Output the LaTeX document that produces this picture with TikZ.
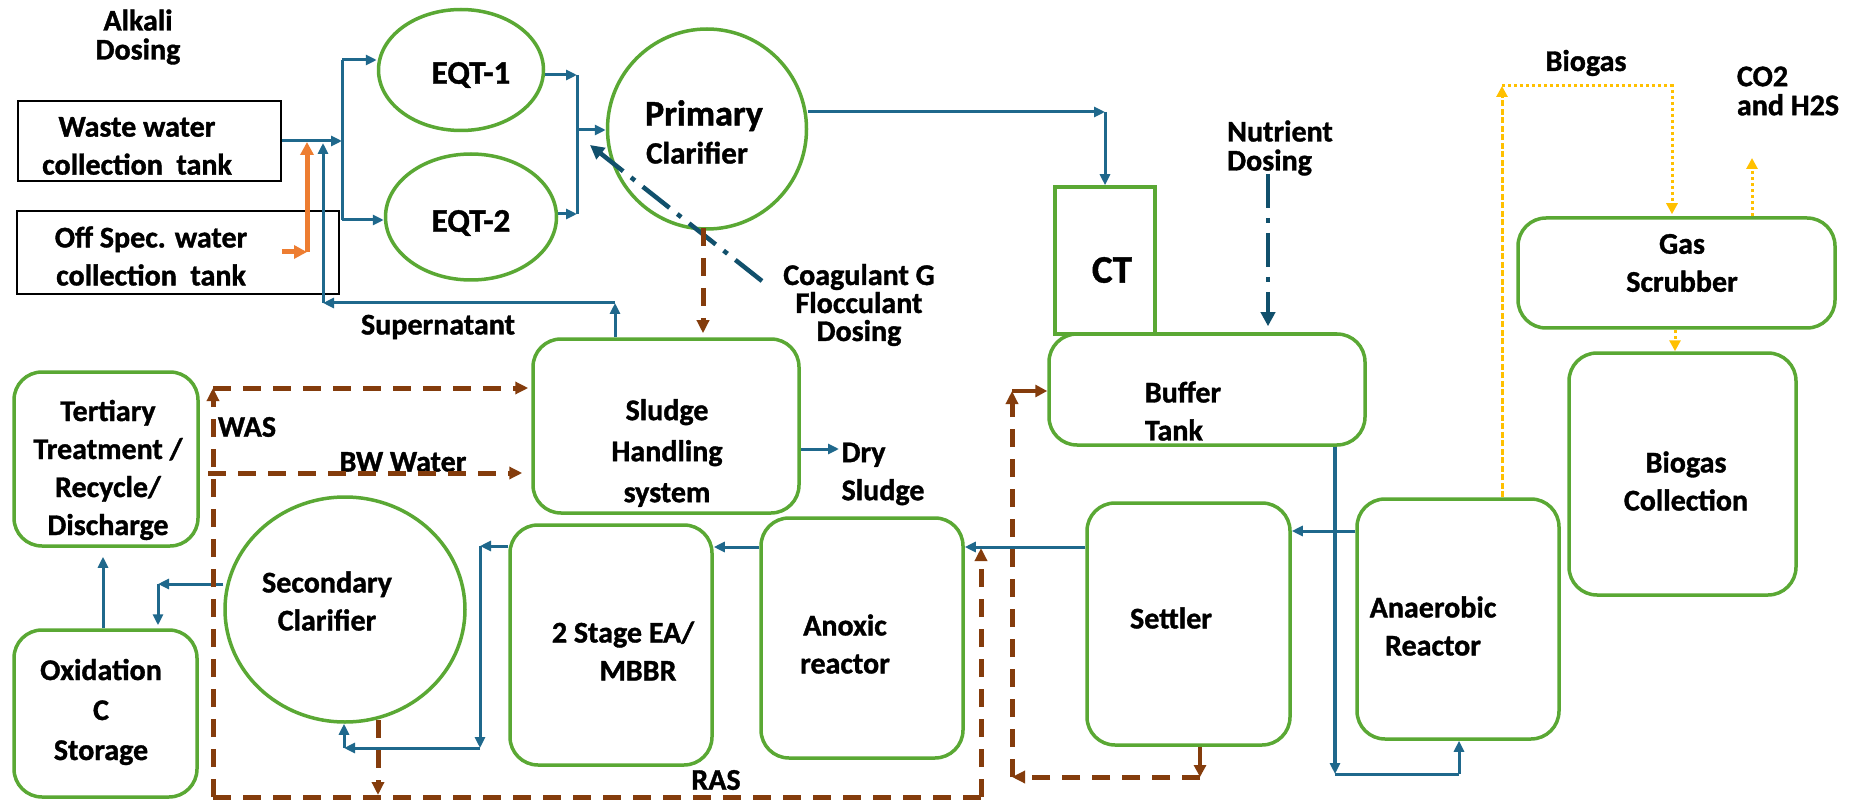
\documentclass[tikz,border=0pt]{standalone}
\usepackage{fontspec}
\setmainfont{Carlito}[BoldFeatures={FakeBold=1.2}]
\usetikzlibrary{arrows.meta,shapes.geometric}
\definecolor{pgreen}{RGB}{90,168,52}
\definecolor{pblue}{RGB}{31,104,140}
\definecolor{pteal}{RGB}{17,80,108}
\definecolor{pbrown}{RGB}{132,60,12}
\definecolor{porange}{RGB}{237,125,49}
\definecolor{pyellow}{RGB}{255,192,0}
\newcommand\boxfont{\fontsize{30}{38}\selectfont\bfseries}
\newcommand\outfont{\fontsize{30}{29}\selectfont\bfseries}
\begin{document}
\begin{tikzpicture}[x=1pt,y=-1pt,
  rbox/.style={draw=pgreen, line width=3.5pt, rounded corners=28pt, inner sep=0pt},
  sqbox/.style={draw=pgreen, line width=3.5pt, inner sep=0pt},
  blackbox/.style={draw=black, line width=2pt, inner sep=0pt},
  oval/.style={draw=pgreen, line width=3.5pt, ellipse, inner sep=0pt},
  txt/.style={font=\boxfont, align=center, inner sep=0pt},
  otxt/.style={font=\outfont, align=center, inner sep=0pt},
  pipe/.style={draw=pblue, line width=3pt},
  flow/.style={pipe, -{Triangle[length=11pt,width=10pt]}},
  flowthick/.style={flow, line width=4.5pt},
  oflow/.style={draw=porange, line width=5pt, -{Triangle[length=13pt,width=13pt]}},
  dosing/.style={draw=pteal, line width=4.5pt, dash pattern=on 34pt off 10pt on 5pt off 10pt, -{Triangle[length=14pt,width=14pt]}},
  sline/.style={draw=pbrown, line width=5pt, dash pattern=on 18pt off 12pt},
  sflow/.style={sline, -{Triangle[length=13pt,width=12pt]}},
  sbolt/.style={draw=pbrown, line width=4.5pt, -{Triangle[length=12pt,width=12pt]}},
  gasdash/.style={draw=pyellow, line width=3pt, dash pattern=on 6pt off 2.5pt, -{Triangle[length=11pt,width=11pt]}},
  gasdot/.style={draw=pyellow, line width=3pt, dash pattern=on 3pt off 3pt, -{Triangle[length=11pt,width=11pt]}}
]
\useasboundingbox[fill=white] (0,0) rectangle (1850,802);

% ---------------- boxes ----------------
\node[blackbox, minimum width=263pt, minimum height=80pt,
  label={[txt,xshift=-12.5pt,yshift=-5pt]center:{Waste water\\collection\ \ tank}}] (ww) at (149.5,141) {};
\node[blackbox, minimum width=322pt, minimum height=83pt,
  label={[txt,xshift=-27pt,yshift=-3.5pt]center:{Off Spec. water\\collection\ \ tank}}] (os) at (178,252.5) {};
\node[oval, minimum width=165pt, minimum height=121pt,
  label={[txt,font=\fontsize{33}{38}\selectfont\bfseries,xshift=10pt,yshift=-5pt]center:{EQT-1}}] (eqt1) at (461,70) {};
\node[oval, minimum width=171pt, minimum height=126pt,
  label={[txt,font=\fontsize{33}{38}\selectfont\bfseries,xshift=0pt,yshift=-6pt]center:{EQT-2}}] (eqt2) at (471,217) {};
\node[oval, minimum width=199pt, minimum height=200pt,
  label={[txt,xshift=-3pt,yshift=-3pt]center:{{\fontsize{36}{40}\selectfont Primary}\\{\fontsize{31}{40}\selectfont Clarifier}\hspace*{14pt}}}] (pc) at (707,129) {};
\node[sqbox, minimum width=100pt, minimum height=147pt,
  label={[txt,font=\fontsize{39}{40}\selectfont\bfseries,xshift=7pt,yshift=-9.5pt]center:{CT}}] (ct) at (1105,260.5) {};
\node[rbox, minimum width=316pt, minimum height=111pt,
  label={[txt,align=left,xshift=-24pt,yshift=-21.5pt]center:{Buffer\\Tank}}] (buffer) at (1207,389.5) {};
\node[rbox, minimum width=317pt, minimum height=110pt,
  label={[txt,xshift=5.5pt,yshift=10pt]center:{Gas\\Scrubber}}] (gs) at (1676.5,273) {};
\node[rbox, minimum width=227pt, minimum height=242pt,
  label={[txt,xshift=3.5pt,yshift=-7pt]center:{Biogas\\Collection}}] (bc) at (1682.5,474) {};
\node[rbox, minimum width=266pt, minimum height=174pt,
  label={[txt,font=\fontsize{30}{41}\selectfont\bfseries,xshift=1pt,yshift=-27pt]center:{Sludge\\Handling\\system}}] (sludge) at (666,426) {};
\node[rbox, minimum width=184pt, minimum height=174pt,
  label={[txt,xshift=2pt,yshift=-11pt]center:{Tertiary\\Treatment /\\Recycle/\\Discharge}}] (tert) at (106,459) {};
\node[rbox, minimum width=183pt, minimum height=167pt,
  label={[txt,font=\fontsize{30}{40}\selectfont\bfseries,xshift=-4.5pt,yshift=1.5pt]center:{Oxidation\\C\\Storage}}] (oxi) at (105.5,713.5) {};
\node[oval, minimum width=240pt, minimum height=225pt,
  label={[txt,xshift=-18pt,yshift=8.5pt]center:{Secondary\\Clarifier}}] (sc) at (345,609.5) {};
\node[rbox, minimum width=202pt, minimum height=240pt,
  label={[txt,xshift=12pt,yshift=-6pt]center:{2 Stage EA/\\\hspace*{30pt}MBBR}}] (twostage) at (611,645) {};
\node[rbox, minimum width=202pt, minimum height=240pt,
  label={[txt,xshift=-17pt,yshift=-6pt]center:{Anoxic\\reactor}}] (anoxic) at (862,638) {};
\node[rbox, minimum width=203pt, minimum height=242pt,
  label={[txt,xshift=-17.5pt,yshift=6pt]center:{Settler}}] (settler) at (1188.5,624) {};
\node[rbox, minimum width=202pt, minimum height=240pt,
  label={[txt,xshift=-25pt,yshift=-7pt]center:{Anaerobic\\Reactor}}] (anaerobic) at (1458,619) {};

% ---------------- free labels ----------------
\node[otxt] (alkali) at (138,37) {Alkali\\Dosing};
\node[otxt, align=left] (nutr) at (1280,148) {Nutrient\\Dosing};
\node[otxt, font=\fontsize{30}{28}\selectfont\bfseries] (coag) at (859,305) {Coagulant G\\Flocculant\\Dosing};
\node[otxt] (super) at (438,327) {Supernatant};
\node[otxt] (was) at (247,427) {WAS};
\node[otxt] (bw) at (403,462) {BW Water};
\node[txt, align=left] (dry) at (883,474) {Dry\\Sludge};
\node[otxt] (ras) at (716,780) {RAS};
\node[otxt] (biogas) at (1586,63) {Biogas};
\node[otxt, align=left] (co2) at (1788,91) {CO2\\and H2S};

% ---------------- coordinates ----------------
\coordinate (jt) at (342,60);
\coordinate (jb) at (342,220);
\coordinate (jm) at (342,141);
\coordinate (k1) at (577,75);
\coordinate (k2) at (577,214);
\coordinate (k3) at (577,130);
\coordinate (m1) at (1105,112);
\coordinate (s1) at (615,303);
\coordinate (s2) at (323,303);
\coordinate (o1) at (282,252);
\coordinate (o2) at (307,252);
\coordinate (c1) at (762,281);
\coordinate (c2) at (590,145);
\coordinate (n1) at (1268,174);
\coordinate (p1) at (703,228);
\coordinate (w0) at (213,797);
\coordinate (w1) at (213,388);
\coordinate (bw0) at (208,473);
\coordinate (r1) at (981,797);
\coordinate (r2) at (981,548);
\coordinate (q1) at (378,720);
\coordinate (q2) at (378,795);
\coordinate (e1) at (1200,777);
\coordinate (e2) at (1012,777);
\coordinate (e3) at (1012,391);
\coordinate (a1) at (0,547);
\coordinate (a2) at (0,531);
\coordinate (t1) at (480,546);
\coordinate (t2) at (480,748);
\coordinate (t3) at (344,748);
\coordinate (u1) at (158,584);
\coordinate (v1) at (103,0);
\coordinate (d1) at (839,449);
\coordinate (b1) at (1335,774);
\coordinate (b2) at (1459,774);
\coordinate (g1) at (1502,86);
\coordinate (g2) at (1672,86);
\coordinate (h1) at (1752,158);
\coordinate (h2) at (1675,0);

% ---------------- blue flows ----------------
\draw[pipe] (jt) -- (jb);
\draw[flow] (ww.east |- jm) -- (jm);
\draw[flow] (jt) -- (jt -| eqt1.west);
\draw[flow] (jb) -- (jb -| eqt2.west);
\draw[flow] (eqt1.east |- k1) -- (k1);
\draw[flow] (eqt2.east |- k2) -- (k2);
\draw[pipe] (k1) -- (k2);
\draw[flow] (k3) -- (k3 -| pc.west);
\draw[flow] (pc.east |- m1) -- (m1);
\draw[flow] (m1) -- (ct.north);
\draw[flow] (sludge.north -| s1) -- (s1);
\draw[flow] (s1) -- (s2);
\draw[flow, shorten >=2pt] (s2) -- (s2 |- jm);
\draw[flow] (d1 -| sludge.east) -- (d1);
\draw[flow] (settler.west |- a1) -- (anoxic.east |- a1);
\draw[flow] (anoxic.west |- a1) -- (twostage.east |- a1);
\draw[flow] (twostage.west |- t1) -- (t1);
\draw[flow] (t1) -- (t2);
\draw[flow] (t2) -- (t3);
\draw[flow] (t3) -- (t3 |- sc.south);
\draw[flow] (sc.west |- u1) -- (u1);
\draw[flow, shorten >=3pt] (u1) -- (u1 |- oxi.north);
\draw[flow, shorten >=9pt] (oxi.north -| v1) -- (tert.south -| v1);
\draw[flowthick] (buffer.south -| b1) -- (b1);
\draw[pipe] (b1) -- (b2);
\draw[flow] (b2) -- (b2 |- anaerobic.south);
\draw[flow] (anaerobic.west |- a2) -- (settler.east |- a2);

% ---------------- orange ----------------
\draw[oflow] (o1) -- (o2);
\draw[oflow, shorten >=1pt] (o2) -- (o2 |- jm);

% ---------------- dosing ----------------
\draw[dosing] (c1) -- (c2);
\draw[dosing, shorten >=6pt] (n1) -- (n1 |- buffer.north);

% ---------------- sludge (brown) ----------------
\draw[sflow, shorten >=4pt] (p1) -- (p1 |- sludge.north);
\draw[sflow] (w0) -- (w1);
\draw[sflow, shorten >=3pt] (w1) -- (w1 -| sludge.west);
\draw[sflow, shorten >=9pt] (bw0) -- (bw0 -| sludge.west);
\draw[sline] (w0) -- (r1);
\draw[sflow] (r1) -- (r2);
\draw[sflow] (q1) -- (q2);
\draw[sbolt] (settler.south -| e1) -- (e1);
\draw[sflow] (e1) -- (e2);
\draw[sflow] (e2) -- (e3);
\draw[sbolt] (e3) -- (e3 -| buffer.west);

% ---------------- gas (yellow) ----------------
\draw[gasdash] (anaerobic.north -| g1) -- (g1);
\draw[gasdot, shorten >=2pt] (g1) -- (g2) -- (g2 |- gs.north);
\draw[gasdot] (gs.north -| h1) -- (h1);
\draw[gasdot] (gs.south -| h2) -- (bc.north -| h2);
\end{tikzpicture}
\end{document}
